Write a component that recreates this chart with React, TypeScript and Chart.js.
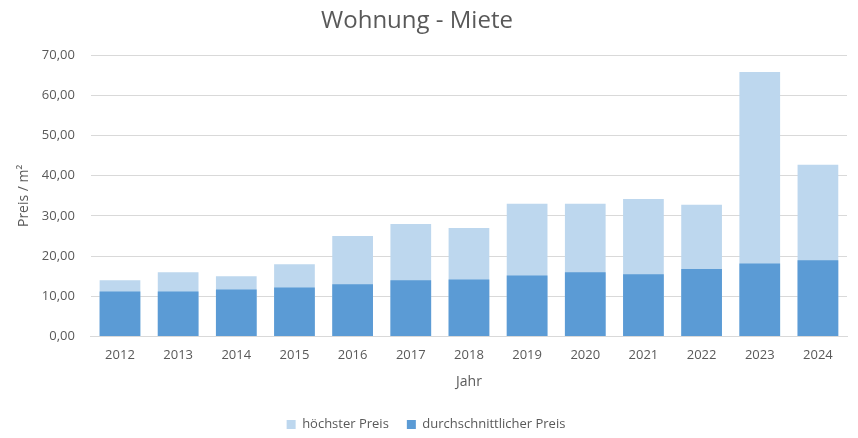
import React, { useEffect, useRef } from "react";
import { Chart, registerables } from "chart.js";

Chart.register(...registerables);

const years = ["2012", "2013", "2014", "2015", "2016", "2017", "2018", "2019", "2020", "2021", "2022", "2023", "2024"];
const hoechsterPreis = [14.0, 16.0, 15.0, 18.0, 25.0, 28.0, 27.0, 33.0, 33.0, 34.2, 32.8, 65.8, 42.7];
const durchschnittPreis = [11.2, 11.2, 11.7, 12.2, 13.0, 14.0, 14.2, 15.2, 16.0, 15.5, 16.8, 18.2, 19.0];
const titleText = "Wohnung - Miete";
const xTitle = "Jahr";
const yTitle = "Preis / m²";

const FONT = "'Open Sans', 'Noto Sans', sans-serif";
const GRAY = "#595959";

const titlePlugin = {
  id: "customTitle",
  afterDraw(chart: any) {
    const ctx = chart.ctx;
    ctx.save();
    ctx.font = `24px ${FONT}`;
    ctx.fillStyle = GRAY;
    ctx.textAlign = "center";
    ctx.textBaseline = "middle";
    ctx.fillText(titleText, 417, 21);
    ctx.restore();
  },
};

export default function App() {
  const ref = useRef<HTMLCanvasElement | null>(null);
  useEffect(() => {
    if (!ref.current) return;
    const chart = new Chart(ref.current, {
      type: "bar",
      data: {
        labels: years,
        datasets: [
          {
            label: "durchschnittlicher Preis",
            data: durchschnittPreis,
            backgroundColor: "#5B9BD5",
            categoryPercentage: 0.7,
            barPercentage: 1,
          },
          {
            label: "höchster Preis",
            data: hoechsterPreis,
            backgroundColor: "#BDD7EE",
            categoryPercentage: 0.7,
            barPercentage: 1,
          },
        ],
      },
      plugins: [titlePlugin],
      options: {
        animation: false,
        responsive: true,
        maintainAspectRatio: false,
        layout: { padding: { left: 5, right: 11, top: 55, bottom: -3 } },
        plugins: {
          tooltip: { enabled: false },
          title: { display: false },
          legend: {
            display: true,
            position: "bottom",
            reverse: true,
            labels: {
              color: GRAY,
              font: { family: FONT, size: 13 },
              boxWidth: 9,
              boxHeight: 9,
              padding: 18,
            },
          },
        },
        scales: {
          x: {
            stacked: true,
            grid: { display: false },
            border: { display: true, color: "#D9D9D9" },
            ticks: { color: GRAY, font: { family: FONT, size: 13 }, padding: 3 },
            title: {
              display: true,
              text: xTitle,
              color: GRAY,
              font: { family: FONT, size: 14 },
              padding: { top: 7, bottom: 10 },
            },
          },
          y: {
            stacked: false,
            min: 0,
            max: 70,
            ticks: {
              stepSize: 10,
              color: GRAY,
              font: { family: FONT, size: 13 },
              padding: 16,
              callback: (v: any) => Number(v).toFixed(2).replace(".", ","),
            },
            grid: { color: "#D9D9D9", drawTicks: false },
            border: { display: false },
            title: {
              display: true,
              text: yTitle,
              color: GRAY,
              font: { family: FONT, size: 14 },
              padding: { top: 11, bottom: -7 },
            },
          },
        },
      },
    });
    return () => chart.destroy();
  }, []);
  return (
    <div style={{ position: "fixed", left: 0, top: 0, width: 858, height: 438, background: "#fff" }}>
      <canvas ref={ref} />
    </div>
  );
}
